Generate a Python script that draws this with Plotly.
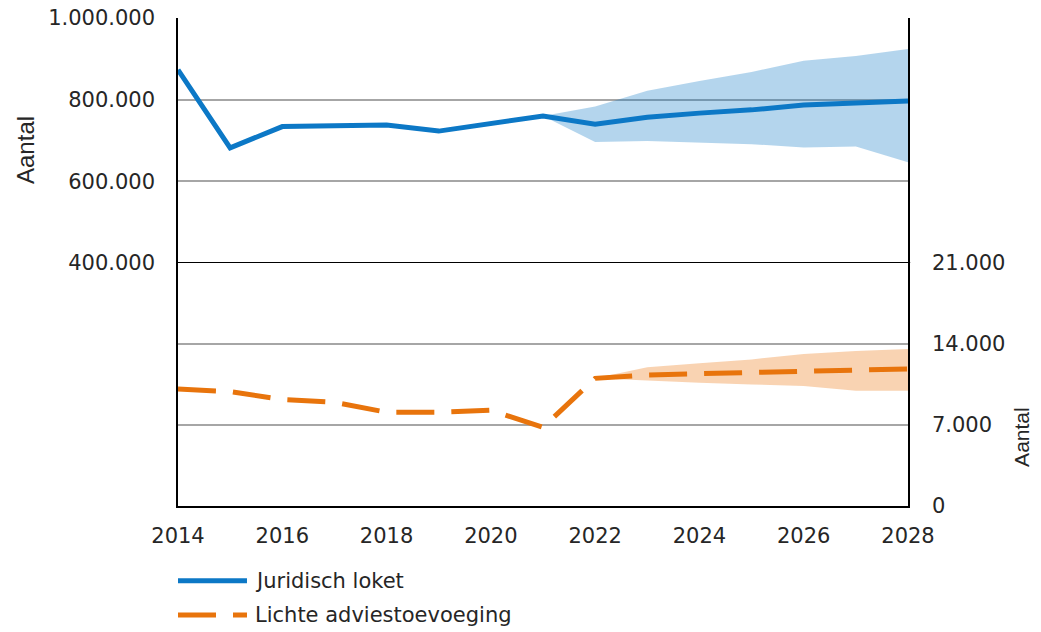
import plotly.graph_objects as go

# Jaren en reeksen
years = list(range(2014, 2029))

juridisch_loket = [873000, 682000, 734000, 736000, 738000, 723000, 740000, 760000,
                   740000, 757000, 767000, 775000, 787000, 792000, 797000]
juridisch_band_years = list(range(2021, 2029))
juridisch_band_hoog = [760000, 783000, 822000, 846000, 868000, 895000, 907000, 924000]
juridisch_band_laag = [760000, 696000, 699000, 695000, 691000, 683000, 685000, 647000]

lichte_advies = [10100, 9880, 9200, 8960, 8100, 8100, 8270, 6800,
                 11030, 11320, 11430, 11520, 11690, 11750, 11840]
lichte_band_years = list(range(2022, 2029))
lichte_band_hoog = [11030, 11980, 12330, 12670, 13130, 13390, 13560]
lichte_band_laag = [11030, 10830, 10650, 10510, 10370, 9960, 9960]

x_ticks = list(range(2014, 2029, 2))
y_ticks_boven = [400000, 600000, 800000, 1000000]
y_ticks_onder = [0, 7000, 14000, 21000]

series_names = ["Juridisch loket", "Lichte adviestoevoeging"]
axis_title = "Aantal"

BLUE = "#0c78c6"
ORANGE = "#e8740c"
BLUE_FILL = "rgba(12,120,198,0.31)"
ORANGE_FILL = "rgba(236,120,20,0.33)"
GRID = "#a6a6a6"
TXT = "#262626"
TICKFONT = dict(family="DejaVu Sans", size=21, color=TXT)

fig = go.Figure()

# Onzekerheidsbanden
fig.add_trace(go.Scatter(x=juridisch_band_years, y=juridisch_band_hoog, mode="lines",
                         line=dict(width=0, color=BLUE_FILL), showlegend=False,
                         hoverinfo="skip", yaxis="y"))
fig.add_trace(go.Scatter(x=juridisch_band_years, y=juridisch_band_laag, mode="lines",
                         line=dict(width=0, color=BLUE_FILL), fill="tonexty",
                         fillcolor=BLUE_FILL, showlegend=False, hoverinfo="skip", yaxis="y"))
fig.add_trace(go.Scatter(x=lichte_band_years, y=lichte_band_hoog, mode="lines",
                         line=dict(width=0, color=ORANGE_FILL), showlegend=False,
                         hoverinfo="skip", yaxis="y2"))
fig.add_trace(go.Scatter(x=lichte_band_years, y=lichte_band_laag, mode="lines",
                         line=dict(width=0, color=ORANGE_FILL), fill="tonexty",
                         fillcolor=ORANGE_FILL, showlegend=False, hoverinfo="skip", yaxis="y2"))

# Lijnen
fig.add_trace(go.Scatter(x=years, y=juridisch_loket, mode="lines", name=series_names[0],
                         line=dict(color=BLUE, width=5), showlegend=False, yaxis="y"))
fig.add_trace(go.Scatter(x=years, y=lichte_advies, mode="lines", name=series_names[1],
                         line=dict(color=ORANGE, width=5, dash="38px,17px"),
                         showlegend=False, yaxis="y2"))

SPLIT = 0.498

fig.update_layout(
    width=1041, height=632,
    margin=dict(l=178, r=133, t=18, b=126),
    paper_bgcolor="white", plot_bgcolor="white",
    separators=",.",
    showlegend=False,
    xaxis=dict(range=[2014, 2028], tickvals=x_ticks, showgrid=False, zeroline=False,
               showline=True, linecolor="black", linewidth=1.5, ticks="",
               tickfont=TICKFONT, ticklabelstandoff=10, anchor="y2", automargin=False),
    yaxis=dict(domain=[SPLIT, 1], range=[400000, 1000000], tickvals=y_ticks_boven,
               tickformat=",d", showgrid=True, gridcolor=GRID, gridwidth=2,
               zeroline=False, showline=True, mirror=True, linecolor="black",
               linewidth=1.5, ticks="", tickfont=TICKFONT, ticklabelstandoff=17,
               automargin=False),
    yaxis2=dict(domain=[0, SPLIT], range=[0, 21000], tickvals=y_ticks_onder,
                tickformat=",d", side="right", anchor="x", showgrid=True,
                gridcolor=GRID, gridwidth=2, zeroline=False, showline=True,
                mirror=True, linecolor="black", linewidth=1.5, ticks="",
                tickfont=TICKFONT, ticklabelstandoff=18, automargin=False),
)

# Scheidingslijn tussen de twee panelen
fig.add_shape(type="line", xref="paper", x0=0, x1=1.003, yref="y", y0=400000, y1=400000,
              line=dict(color="black", width=2))

# Astitels
fig.add_annotation(text=axis_title, xref="paper", yref="paper", x=-0.2096, y=0.7295,
                   xanchor="center", yanchor="middle", textangle=-90, showarrow=False,
                   font=dict(family="Liberation Sans", size=24, color=TXT))
fig.add_annotation(text=axis_title, xref="paper", yref="paper", x=1.156, y=0.1414,
                   xanchor="center", yanchor="middle", textangle=-90, showarrow=False,
                   font=dict(family="Liberation Sans", size=21, color=TXT))

# Legenda onder de grafiek
legend_rows = [(-0.153, BLUE, "solid", 5), (-0.2234, ORANGE, "38px,17px", 5)]
for (ly, col, dash, w), name in zip(legend_rows, series_names):
    fig.add_shape(type="line", xref="paper", yref="paper", x0=0, x1=0.0945, y0=ly, y1=ly,
                  line=dict(color=col, width=w, dash=dash))
    fig.add_annotation(text=name, xref="paper", yref="paper", x=0.1025, y=ly,
                       xanchor="left", yanchor="middle", showarrow=False,
                       font=dict(family="DejaVu Sans", size=21, color=TXT))

fig.write_html("out.html")
